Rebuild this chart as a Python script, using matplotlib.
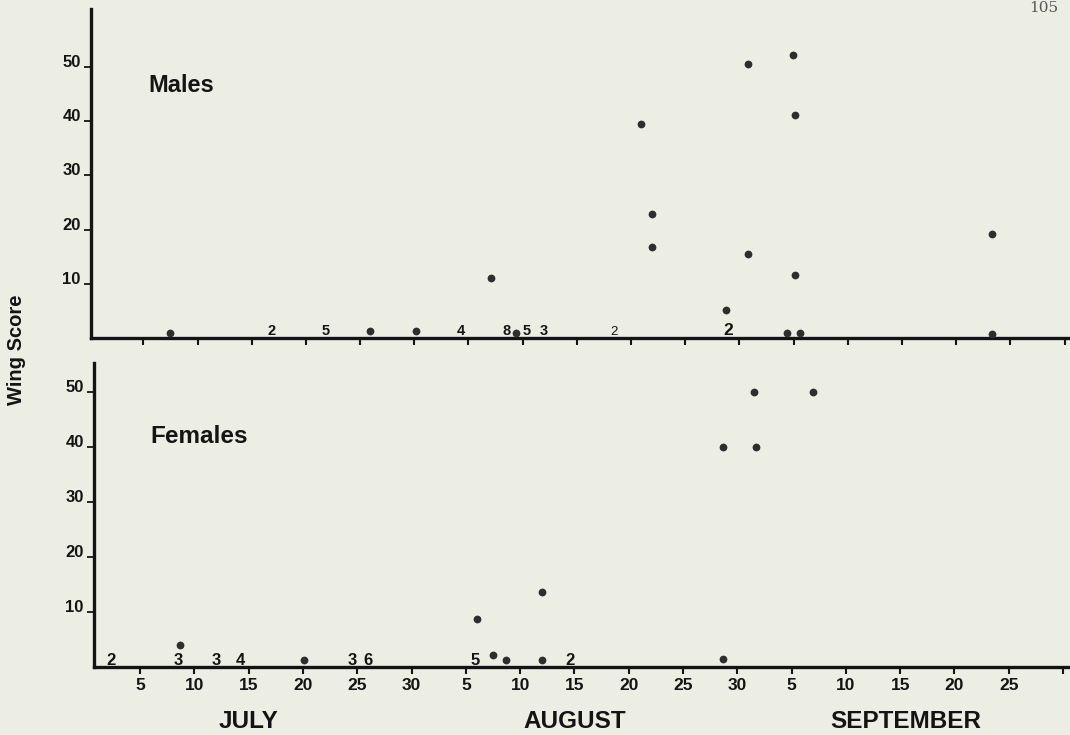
import matplotlib
matplotlib.use("Agg")
import matplotlib.pyplot as plt
from matplotlib.transforms import blended_transform_factory

# ---------------- data ----------------
# x positions: day index on a uniform scale (each tick = 5 days, July 1 ~ day 1)
tick_days = [5, 10, 15, 20, 25, 30, 35, 40, 45, 50, 55, 60, 65, 70, 75, 80, 85, 90]
tick_labels = ["5", "10", "15", "20", "25", "30",
               "5", "10", "15", "20", "25", "30",
               "5", "10", "15", "20", "25", ""]
score_ticks = [10, 20, 30, 40, 50]
score_labels = ["10", "20", "30", "40", "50"]
months = ["JULY", "AUGUST", "SEPTEMBER"]
month_centers = [15, 45, 75.5]

male_day = [7.5, 25.9, 30.2, 37.1, 39.4, 50.9, 51.9, 51.9, 58.8, 60.8,
            60.8, 64.4, 64.9, 65.1, 65.1, 65.6, 83.3, 83.3]
male_score = [1.0, 1.2, 1.3, 11.0, 0.9, 39.5, 22.8, 16.8, 5.2, 50.6,
              15.5, 0.9, 52.2, 41.1, 11.6, 0.9, 19.2, 0.8]
male_count_day = [16.8, 21.8, 34.3, 38.5, 40.4, 41.9, 48.4, 59.0]
male_count = ["2", "5", "4", "8", "5", "3", "2", "2"]

female_day = [8.7, 20.1, 36.0, 37.5, 38.7, 42.0, 42.0, 58.7, 58.7, 61.7, 61.5, 67.0]
female_score = [4.0, 1.2, 8.6, 2.1, 1.2, 13.6, 1.2, 1.3, 40.0, 40.0, 50.0, 50.0]
female_count_day = [2.3, 8.5, 12.0, 14.2, 24.5, 26.0, 35.9, 44.6]
female_count = ["2", "3", "3", "4", "3", "6", "5", "2"]

# ---------------- style ----------------
BG = "#eceee4"
INK = "#141414"
DOT = "#2e2e2e"
FONT = ["Liberation Sans", "DejaVu Sans"]
plt.rcParams["font.family"] = FONT

W, H = 1070, 735
fig = plt.figure(figsize=(W / 100, H / 100), dpi=100, facecolor=BG)


def px_axes(left, right, top, bottom):
    return [left / W, 1 - bottom / H, (right - left) / W, (bottom - top) / H]


ax_m = fig.add_axes(px_axes(91, 1070, 9.3, 338))
ax_f = fig.add_axes(px_axes(94, 1070, 363, 666.5))


def style(ax, xlim, ylim, show_xlabels):
    ax.set_facecolor("none")
    ax.set_xlim(*xlim)
    ax.set_ylim(*ylim)
    for s in ["top", "right"]:
        ax.spines[s].set_visible(False)
    for s in ["left", "bottom"]:
        ax.spines[s].set_linewidth(2.4)
        ax.spines[s].set_color(INK)
        ax.spines[s].set_capstyle("projecting")
    ax.set_xticks(tick_days)
    ax.set_xticklabels(tick_labels if show_xlabels else [""] * len(tick_days))
    ax.set_yticks(score_ticks)
    ax.set_yticklabels(score_labels)
    ax.tick_params(axis="x", direction="out", length=5.0, width=1.5, color=INK,
                   pad=3.5, labelsize=12.5, labelcolor=INK)
    ax.tick_params(axis="y", direction="out", length=4.8, width=1.3, color=INK,
                   pad=2.5, labelsize=12, labelcolor=INK)
    for lab in ax.get_xticklabels() + ax.get_yticklabels():
        lab.set_fontweight("bold")
    plt.setp(ax.get_yticklabels(), va="baseline")


style(ax_m, (0.175, 90.49), (0, 60.6), False)
style(ax_f, (0.76, 90.64), (0, 55.2), True)

# dots
ax_m.scatter(male_day, male_score, s=5.6 ** 2, c=DOT, linewidths=0,
             clip_on=False, zorder=3)
ax_f.scatter(female_day, female_score, s=5.6 ** 2, c=DOT, linewidths=0,
             clip_on=False, zorder=3)

# counts on the baseline
for d, c in zip(male_count_day, male_count):
    big = (d > 55)
    light = (45 < d < 55)
    ax_m.text(d, 0.55, c, ha="center", va="baseline",
              fontsize=12.5 if big else (9.5 if light else 10.5),
              fontweight="normal" if light else "bold", color=INK, zorder=4)
for d, c in zip(female_count_day, female_count):
    ax_f.text(d, 0.27, c, ha="center", va="baseline", fontsize=12,
              fontweight="bold", color=INK, zorder=4)

# panel titles
ax_m.text(0.0582, 0.749, "Males", transform=ax_m.transAxes, ha="left",
          va="baseline", fontsize=17, fontweight="bold", color=INK)
ax_f.text(0.0574, 0.736, "Females", transform=ax_f.transAxes, ha="left",
          va="baseline", fontsize=17.5, fontweight="bold", color=INK)

# month labels under the lower axis
tr = blended_transform_factory(ax_f.transData, ax_f.transAxes)
for m, d in zip(months, month_centers):
    ax_f.text(d, -0.18, m, transform=tr, ha="center", va="center",
              fontsize=17.5, fontweight="bold", color=INK, clip_on=False)

# shared y label
fig.text(17 / W, 1 - 350 / H, "Wing Score", rotation=90, ha="center",
         va="center", fontsize=14.5, fontweight="bold", color=INK)

# page number at the top right
fig.text(1044 / W, 1 - 12 / H, "105", ha="center", va="baseline",
         fontsize=11, family="DejaVu Serif", color="#555555")

fig.savefig("out.png", dpi=100, facecolor=BG)
